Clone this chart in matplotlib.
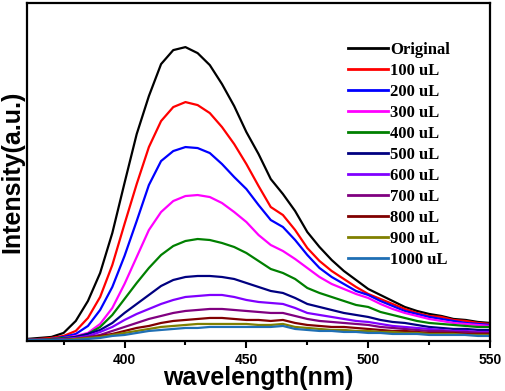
import matplotlib
matplotlib.use("Agg")
import matplotlib.pyplot as plt
from matplotlib.ticker import MultipleLocator

# ---------- DATA (a.u.) ----------

wavelength = list(range(360, 551, 5))

original = [2, 3, 4, 8, 20, 40, 68, 108, 158, 207, 245, 277, 291, 294, 288, 276, 257, 235, 209, 187,
            162, 147, 130, 109, 94, 81, 70, 61, 52, 46, 40, 34, 30, 27, 25, 22, 21, 19, 18]
ul_100 = [1, 2, 3, 5, 10, 23, 44, 76, 117, 157, 194, 220, 234, 239, 236, 228, 214, 197, 177, 155,
          134, 126, 111, 93, 80, 70, 62, 54, 47, 42, 37, 32, 28, 25, 24, 21, 20, 18, 17]
ul_200 = [1, 1, 2, 4, 7, 15, 31, 54, 85, 120, 156, 180, 190, 194, 193, 188, 177, 164, 152, 136,
          121, 114, 101, 86, 73, 64, 57, 50, 46, 40, 35, 30, 27, 24, 22, 20, 18, 17, 16]
ul_300 = [1, 1, 2, 3, 5, 8, 17, 33, 57, 84, 111, 129, 140, 145, 146, 144, 138, 129, 119, 106,
          96, 90, 82, 73, 64, 57, 52, 47, 43, 37, 32, 28, 25, 22, 20, 18, 17, 16, 15]
ul_400 = [1, 1, 2, 3, 4, 7, 14, 26, 42, 58, 73, 86, 95, 100, 102, 101, 98, 94, 88, 80,
          72, 68, 62, 53, 48, 44, 40, 36, 34, 29, 26, 23, 20, 18, 17, 16, 15, 14, 14]
ul_500 = [1, 1, 1, 2, 4, 7, 11, 18, 28, 37, 46, 55, 61, 64, 65, 65, 64, 62, 58, 54,
          50, 48, 43, 37, 34, 31, 28, 26, 24, 21, 19, 18, 16, 14, 13, 12, 12, 11, 11]
ul_600 = [1, 1, 1, 2, 3, 5, 9, 14, 21, 27, 32, 37, 41, 44, 45, 46, 46, 44, 41, 39,
          38, 37, 33, 28, 26, 24, 22, 20, 19, 17, 15, 14, 13, 12, 11, 10, 10, 9, 9]
ul_700 = [1, 1, 1, 1, 2, 4, 6, 10, 14, 18, 22, 25, 28, 30, 31, 32, 32, 31, 30, 29,
          28, 28, 25, 22, 20, 19, 18, 17, 16, 14, 13, 12, 11, 10, 10, 9, 9, 8, 8]
ul_800 = [1, 1, 1, 1, 2, 3, 5, 7, 10, 13, 15, 18, 20, 21, 22, 23, 23, 22, 21, 21,
          20, 21, 18, 16, 15, 14, 14, 13, 12, 11, 10, 10, 9, 8, 8, 8, 7, 7, 7]
ul_900 = [1, 1, 1, 1, 2, 3, 4, 6, 8, 10, 12, 14, 15, 16, 17, 17, 17, 17, 17, 16,
          16, 17, 14, 13, 12, 11, 11, 10, 10, 9, 9, 8, 8, 7, 7, 7, 6, 6, 6]
ul_1000 = [1, 1, 1, 1, 1, 2, 3, 5, 6, 8, 10, 11, 12, 13, 13, 14, 14, 14, 14, 14,
           14, 15, 12, 11, 10, 10, 9, 9, 8, 8, 7, 7, 7, 6, 6, 6, 6, 5, 5]

labels = ["Original", "100 uL", "200 uL", "300 uL", "400 uL", "500 uL",
          "600 uL", "700 uL", "800 uL", "900 uL", "1000 uL"]
colors = ["#000000", "#FF0000", "#0000FF", "#FF00FF", "#008000", "#000080",
          "#8000FF", "#800080", "#800000", "#808000", "#1F6FB4"]
series = [original, ul_100, ul_200, ul_300, ul_400, ul_500,
          ul_600, ul_700, ul_800, ul_900, ul_1000]

# ---------- PLOT ----------

fig = plt.figure(figsize=(5.05, 3.91), dpi=100)
ax = fig.add_axes([0.0535, 0.128, 0.917, 0.864])

for ys, c, lab in zip(series, colors, labels):
    ax.plot(wavelength, ys, color=c, linewidth=1.6, label=lab,
            solid_joinstyle="round")

ax.set_xlim(360, 550)
ax.set_ylim(0, 338)
ax.xaxis.set_major_locator(MultipleLocator(50))
ax.xaxis.set_minor_locator(MultipleLocator(25))
ax.set_yticks([])

for s in ax.spines.values():
    s.set_linewidth(1.6)

ax.tick_params(axis="x", which="major", direction="out", length=5, width=1.5,
               top=False, labelsize=10, pad=3.5)
ax.tick_params(axis="x", which="minor", direction="out", length=3, width=1.5, top=False)
for t in ax.get_xticklabels():
    t.set_fontfamily("Liberation Sans")
    t.set_fontweight("bold")

ax.set_xlabel("wavelength(nm)", fontsize=18, fontweight="bold",
              family="Liberation Sans", labelpad=-0.5)
ax.set_ylabel("Intensity(a.u.)", fontsize=18, fontweight="bold",
              family="Liberation Sans", labelpad=2)

leg = ax.legend(loc="upper left", bbox_to_anchor=(0.693, 0.884), frameon=False,
                prop={"family": "Liberation Serif", "weight": "bold", "size": 12},
                handlelength=2.4, handletextpad=0.15, labelspacing=0.3,
                borderaxespad=0, borderpad=0)
for line in leg.get_lines():
    line.set_linewidth(2.0)

fig.savefig("out.png", dpi=100)
